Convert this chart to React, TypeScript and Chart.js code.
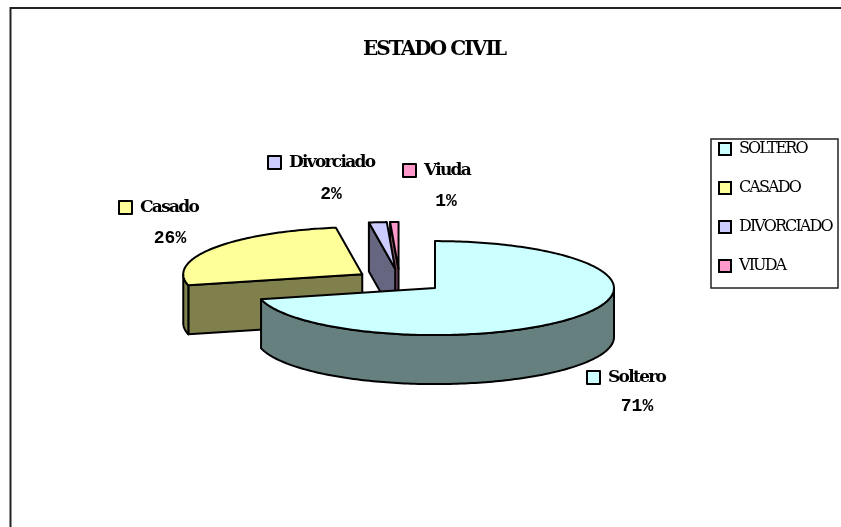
import React, { useEffect, useRef } from "react";
import { Chart, registerables } from "chart.js";

Chart.register(...registerables);

const titleText = "ESTADO CIVIL";
const legendNames = ["SOLTERO", "CASADO", "DIVORCIADO", "VIUDA"];
const sliceNames = ["Soltero", "Casado", "Divorciado", "Viuda"];
const values = [71.2, 26.45, 1.6, 0.75];
const topColors = ["#CCFFFF", "#FFFF99", "#CCCCFF", "#FF99CC"];
const wallColors = ["#668080", "#80804D", "#666680", "#804D66"];

const SERIF = "'DejaVu Serif', serif";
const MONO = "'Liberation Mono', monospace";
const SQUASH = 47 / 179;
const EXPLODE = 45;
const DEPTH = 49;
const RADIUS = 179;
const labelAnchors = [
  [587, 371, 637, 406],
  [119, 201, 170, 238],
  [268, 156, 331, 194],
  [403, 164, 446, 201],
];

const pie3d = {
  id: "pie3d",
  afterLayout(chart: any) {
    chart.chartArea = { left: 300, right: 499.2, top: 180, bottom: 381.6, width: 199.2, height: 201.6 };
    const lg = chart.legend;
    lg.left = 696; lg.right = 840; lg.width = 144;
    lg.top = 118; lg.bottom = 320; lg.height = 202;
    const t = chart.titleBlock;
    t.left = 234; t.right = 634; t.width = 400;
    t.top = 38;
  },
  beforeDraw(chart: any) {
    const ctx = chart.ctx;
    ctx.fillStyle = "#fff";
    ctx.fillRect(0, 0, chart.width, chart.height);
    ctx.strokeStyle = "#222";
    ctx.lineWidth = 2;
    ctx.strokeRect(10.5, 8, 1200, 1200);
    ctx.strokeStyle = "#222";
    ctx.lineWidth = 1.5;
    ctx.strokeRect(711, 139, 127, 149);
    ctx.letterSpacing = "-1.9px";
  },
  beforeDatasetsDraw(chart: any) {
    const ctx = chart.ctx;
    ctx.letterSpacing = "0px";
    const arcs = chart.getDatasetMeta(0).data;
    for (let i = arcs.length - 1; i >= 0; i--) {
      const arc = arcs[i];
      const { x, y, startAngle, endAngle, outerRadius: r } = arc.getProps(["x", "y", "startAngle", "endAngle", "outerRadius"], true);
      const mid = (startAngle + endAngle) / 2;
      const ox = x + EXPLODE * Math.cos(mid);
      const oy = EXPLODE * Math.sin(mid);
      const px = (a: number) => [ox + r * Math.cos(a), y + SQUASH * (oy + r * Math.sin(a))];
      const apex = [ox, y + SQUASH * oy];
      const steps = Math.max(4, Math.ceil((endAngle - startAngle) / 0.02));
      const rim: number[][] = [];
      for (let s = 0; s <= steps; s++) rim.push(px(startAngle + ((endAngle - startAngle) * s) / steps));

      const wall = (pts: number[][]) => {
        let run: number[][] = [];
        const flush = () => {
          if (run.length > 1) {
            ctx.beginPath();
            run.forEach((p, n) => (n ? ctx.lineTo(p[0], p[1]) : ctx.moveTo(p[0], p[1])));
            [...run].reverse().forEach((p) => ctx.lineTo(p[0], p[1] + DEPTH));
            ctx.closePath();
            ctx.fillStyle = wallColors[i];
            ctx.fill();
            ctx.strokeStyle = "#000";
            ctx.lineWidth = 2;
            ctx.lineJoin = "round";
            ctx.stroke();
          }
          run = [];
        };
        for (let n = 0; n < pts.length - 1; n++) {
          if (pts[n + 1][0] < pts[n][0]) {
            if (!run.length) run.push(pts[n]);
            run.push(pts[n + 1]);
          } else flush();
        }
        flush();
      };
      wall([apex, rim[0]]);
      wall(rim);
      wall([rim[rim.length - 1], apex]);

      ctx.save();
      ctx.translate(x, y);
      ctx.scale(1, SQUASH);
      ctx.translate(-x, -y);
      ctx.translate(EXPLODE * Math.cos(mid), EXPLODE * Math.sin(mid));
      arc.draw(ctx);
      ctx.restore();

      ctx.beginPath();
      ctx.moveTo(apex[0], apex[1]);
      rim.forEach((p) => ctx.lineTo(p[0], p[1]));
      ctx.closePath();
      ctx.strokeStyle = "#000";
      ctx.lineWidth = 2;
      ctx.lineJoin = "round";
      ctx.stroke();
    }
    return false;
  },
  afterDraw(chart: any) {
    const ctx = chart.ctx;
    const total = values.reduce((a, b) => a + b, 0);
    labelAnchors.forEach(([bx, by, cx, cy], i) => {
      ctx.fillStyle = topColors[i];
      ctx.strokeStyle = "#000";
      ctx.lineWidth = 2;
      ctx.fillRect(bx, by, 13, 13);
      ctx.strokeRect(bx, by, 13, 13);
      ctx.fillStyle = "#000";
      ctx.textBaseline = "middle";
      ctx.textAlign = "left";
      ctx.font = `bold 17px ${SERIF}`;
      ctx.letterSpacing = "-1.7px";
      ctx.fillText(sliceNames[i], bx + 21, by + 7);
      ctx.textAlign = "center";
      ctx.font = `bold 18px ${MONO}`;
      ctx.letterSpacing = "0px";
      ctx.fillText(`${Math.round((values[i] / total) * 100)}%`, cx, cy);
    });
  },
};

export default function App() {
  const ref = useRef<HTMLCanvasElement>(null);
  useEffect(() => {
    const chart = new Chart(ref.current as HTMLCanvasElement, {
      type: "pie",
      data: {
        labels: legendNames,
        datasets: [{ data: values, backgroundColor: topColors, borderWidth: 0 }],
      },
      options: {
        animation: false,
        responsive: false,
        radius: RADIUS,
        plugins: {
          tooltip: { enabled: false },
          title: {
            display: true,
            text: titleText,
            color: "#000",
            font: { family: SERIF, size: 20, weight: "bold" },
            padding: 0,
          },
          legend: {
            position: "right",
            align: "start",
            labels: {
              boxWidth: 12,
              boxHeight: 12,
              padding: 23,
              color: "#000",
              font: { family: SERIF, size: 16 },
              generateLabels(c: any) {
                return Chart.overrides.pie.plugins.legend.labels.generateLabels(c).map((l: any) => ({
                  ...l,
                  strokeStyle: "#000",
                  lineWidth: 2,
                }));
              },
            },
          },
        },
      } as any,
      plugins: [pie3d],
    });
    return () => chart.destroy();
  }, []);
  return <canvas ref={ref} width={841} height={527} style={{ position: "absolute", left: 0, top: 0, width: 841, height: 527 }} />;
}
